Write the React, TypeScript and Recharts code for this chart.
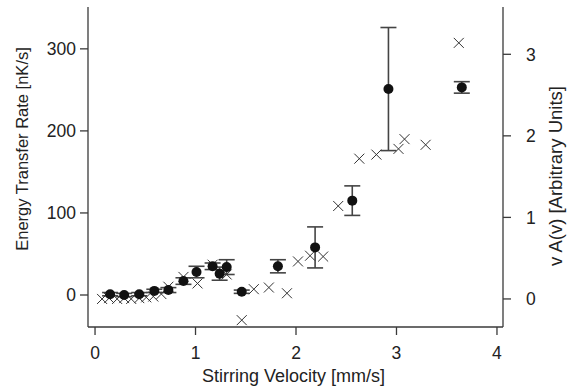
import React from "react";
import {
  ScatterChart,
  Scatter,
  XAxis,
  YAxis,
  ErrorBar,
  Label,
} from "recharts";

const circleVelocity = [0.15, 0.29, 0.44, 0.59, 0.73, 0.88, 1.01, 1.17, 1.24, 1.31, 1.46, 1.82, 2.19, 2.56, 2.92, 3.65];
const circleRate = [1, 0, 1, 5, 6, 17, 28, 35, 26, 34, 4, 35, 58, 115, 251, 253];
const circleErr = [2, 2, 2, 2, 3, 4, 7, 4, 8, 9, 2, 8, 25, 18, 75, 7];

const crossVelocity = [0.07, 0.14, 0.22, 0.29, 0.36, 0.44, 0.51, 0.58, 0.66, 0.73, 0.88, 1.02, 1.17, 1.31, 1.46, 1.58, 1.73, 1.91, 2.02, 2.14, 2.27, 2.42, 2.63, 2.8, 3.02, 3.08, 3.29, 3.62];
const crossA = [0.0, 0.01, 0.0, 0.01, 0.0, 0.01, 0.02, 0.03, 0.06, 0.15, 0.27, 0.19, 0.42, 0.3, -0.26, 0.12, 0.14, 0.07, 0.46, 0.53, 0.52, 1.14, 1.72, 1.77, 1.84, 1.96, 1.89, 3.14];

const xTicks = [0, 1, 2, 3, 4];
const leftTicks = [0, 100, 200, 300];
const rightTicks = [0, 1, 2, 3];

const circleData = circleVelocity.map((v, i) => ({ v, rate: circleRate[i], err: circleErr[i] }));
const crossData = crossVelocity.map((v, i) => ({ v, a: crossA[i] }));

const AXIS = "#3a3a3a";
const FONT = "Liberation Sans, Arial, sans-serif";
const tickStyle = { fill: "#222", fontSize: 17.5, fontFamily: FONT };

const Dot = (props: any) => {
  const { cx, cy } = props;
  if (cx == null || cy == null) return null;
  return <circle cx={cx} cy={cy} r={5} fill="#111" />;
};

const Cross = (props: any) => {
  const { cx, cy } = props;
  if (cx == null || cy == null) return null;
  const s = 5;
  return (
    <path
      d={`M${cx - s},${cy - s}L${cx + s},${cy + s}M${cx - s},${cy + s}L${cx + s},${cy - s}`}
      stroke="#333"
      strokeWidth={1}
      fill="none"
    />
  );
};

export default function App() {
  return (
    <div style={{ position: "absolute", left: 0, top: 0, width: 567, height: 388, background: "#fff" }}>
      <ScatterChart width={567} height={388} margin={{ top: 7, right: 0, bottom: 0, left: 0 }}>
        <XAxis
          xAxisId="b"
          type="number"
          dataKey="v"
          domain={[-0.07, 4.06]}
          ticks={xTicks}
          allowDataOverflow
          height={61}
          tickSize={8}
          tickMargin={12}
          tick={tickStyle}
          stroke={AXIS}
          strokeWidth={1.3}
        >
          <Label
            value="Stirring Velocity [mm/s]"
            position="insideBottom"
            offset={6}
            dx={-2}
            style={{ fill: "#222", fontSize: 18, fontFamily: FONT }}
          />
        </XAxis>
        <XAxis
          xAxisId="t"
          orientation="top"
          type="number"
          dataKey="v"
          domain={[-0.07, 4.06]}
          allowDataOverflow
          height={0}
          tick={false}
          tickLine={false}
          stroke={AXIS}
          strokeWidth={1.3}
        />
        <YAxis
          yAxisId="L"
          type="number"
          domain={[-39, 351]}
          ticks={leftTicks}
          allowDataOverflow
          width={88}
          tickSize={8}
          tickMargin={4}
          tick={tickStyle}
          stroke={AXIS}
          strokeWidth={1.3}
        >
          <Label
            value="Energy Transfer Rate [nK/s]"
            angle={-90}
            position="insideLeft"
            offset={22}
            dy={-18}
            style={{ textAnchor: "middle", fill: "#222", fontSize: 16.5, fontFamily: FONT }}
          />
        </YAxis>
        <YAxis
          yAxisId="R"
          orientation="right"
          type="number"
          domain={[-0.344, 3.58]}
          ticks={rightTicks}
          allowDataOverflow
          width={64}
          tickSize={8}
          tickMargin={15}
          tick={tickStyle}
          stroke={AXIS}
          strokeWidth={1.3}
        >
          <Label
            value="v A(v) [Arbitrary Units]"
            angle={-90}
            position="insideRight"
            offset={12}
            dy={9}
            style={{ textAnchor: "middle", fill: "#222", fontSize: 18.5, fontFamily: FONT }}
          />
        </YAxis>
        <Scatter
          data={crossData}
          dataKey="a"
          xAxisId="b"
          yAxisId="R"
          shape={<Cross />}
          isAnimationActive={false}
        />
        <Scatter
          data={circleData}
          dataKey="rate"
          xAxisId="b"
          yAxisId="L"
          shape={<Dot />}
          isAnimationActive={false}
        >
          <ErrorBar dataKey="err" direction="y" width={8} stroke="#444" strokeWidth={1.6} />
        </Scatter>
      </ScatterChart>
    </div>
  );
}
